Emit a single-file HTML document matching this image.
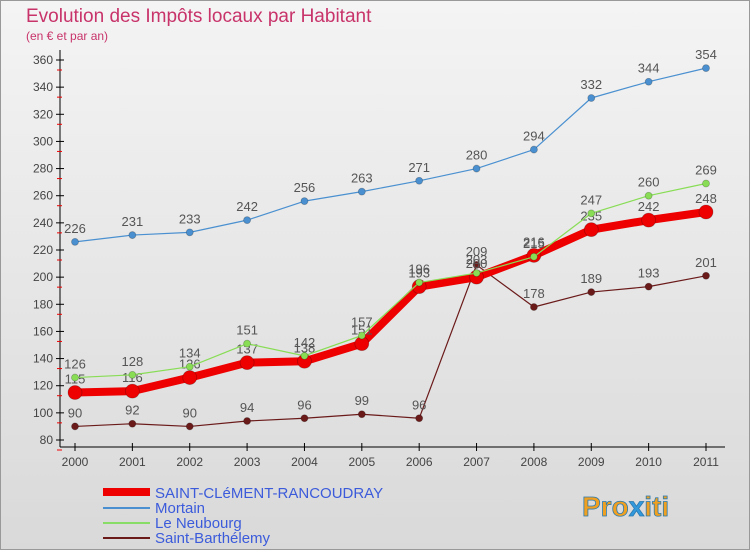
<!DOCTYPE html>
<html><head><meta charset="utf-8"><style>
body{margin:0;width:750px;height:550px;overflow:hidden;font-family:"Liberation Sans",sans-serif;}
svg text{font-family:"Liberation Sans",sans-serif;}
</style></head><body>
<svg width="750" height="550" viewBox="0 0 750 550">
<defs><linearGradient id="bg" x1="0" y1="0" x2="0" y2="1"><stop offset="0" stop-color="#f4f4f4"/><stop offset="1" stop-color="#d9d9d9"/></linearGradient></defs>
<rect x="0.5" y="0.5" width="749" height="549" fill="url(#bg)" stroke="#999"/>
<text x="26" y="22" font-size="19" fill="#c8336a">Evolution des Impôts locaux par Habitant</text>
<text x="26" y="40" font-size="12" fill="#c8336a">(en € et par an)</text>
<g id="axes"></g>
<g id="series"></g>
<g>
<line x1="103" y1="492" x2="150" y2="492" stroke="#e00" stroke-width="8"/>
<text x="155" y="498" font-size="15" fill="#3b5bdb">SAINT-CLéMENT-RANCOUDRAY</text>
<line x1="103" y1="508" x2="150" y2="508" stroke="#4a90d0" stroke-width="2"/>
<text x="155" y="513" font-size="15" fill="#3b5bdb">Mortain</text>
<line x1="103" y1="523" x2="150" y2="523" stroke="#88dd66" stroke-width="2"/>
<text x="155" y="528" font-size="15" fill="#3b5bdb">Le Neubourg</text>
<line x1="103" y1="538" x2="150" y2="538" stroke="#6b1a1a" stroke-width="2"/>
<text x="155" y="543" font-size="15" fill="#3b5bdb">Saint-Barthélemy</text>
</g>
<text x="582" y="516" font-size="28" font-weight="bold" fill="#f0a020" stroke="#2a7ab0" stroke-width="0.8">Pro<tspan fill="#3399dd">x</tspan>iti</text>
</svg>
<script>
const years=["2000","2001","2002","2003","2004","2005","2006","2007","2008","2009","2010","2011"];
const yTicks=[80,100,120,140,160,180,200,220,240,260,280,300,320,340,360];
const saintClement=[115,116,126,137,138,151,193,200,216,235,242,248];
const mortain=[226,231,233,242,256,263,271,280,294,332,344,354];
const neubourg=[126,128,134,151,142,157,196,203,215,247,260,269];
const barthelemy=[90,92,90,94,96,99,96,209,178,189,193,201];
const NS="http://www.w3.org/2000/svg";
function X(i){return 75+i*(706-75)/11;}
function Y(v){return 440-(v-80)*(380/280);}
function mk(t,a,p){const e=document.createElementNS(NS,t);for(const k in a)e.setAttribute(k,a[k]);p.appendChild(e);return e;}
const ax=document.getElementById('axes');
mk('line',{x1:60,y1:50,x2:60,y2:447,stroke:'#000'},ax);
mk('line',{x1:60,y1:447,x2:725,y2:447,stroke:'#000'},ax);
yTicks.forEach(v=>{
 const y=Y(v);
 const l=mk('line',{x1:56,y1:y,x2:64,y2:y,stroke:'#000'},ax);
 
 
 mk('line',{x1:57,y1:y+10,x2:62,y2:y+10,stroke:'#e00'},ax);
 const t=mk('text',{x:53,y:y+4,'font-size':12,'text-anchor':'end',fill:'#444'},ax);
 t.textContent=v;
 
 
});
years.forEach((yr,i)=>{
 const x=X(i);
 mk('line',{x1:x,y1:443,x2:x,y2:451,stroke:'#000'},ax);
 const t=mk('text',{x:x,y:466,'font-size':12,'text-anchor':'middle',fill:'#444'},ax);
 t.textContent=yr;
 
 
});
const sg=document.getElementById('series');
function series(name,vals,color,w,r){
 const g=mk('g',{},sg);
 
 
 mk('polyline',{points:vals.map((v,i)=>X(i)+','+Y(v)).join(' '),fill:'none',stroke:color,'stroke-width':w,'stroke-linejoin':'round'},g);
 vals.forEach((v,i)=>{
  const c=mk('circle',{cx:X(i),cy:Y(v),r:r,fill:color,stroke:'rgba(0,0,0,0.25)','stroke-width':0.8},g);
  
  
  const t=mk('text',{x:X(i),y:Y(v)-9,'font-size':13,'text-anchor':'middle',fill:'#555'},g);
  t.textContent=v;
  
  
 });
}
series('mortain-series',mortain,'#4a90d0',1.2,3.5);
series('barthelemy-series',barthelemy,'#6b1a1a',1.2,3.5);
series('saint-clement-series',saintClement,'#ee0000',8,7);
series('neubourg-series',neubourg,'#88dd55',1.2,3.5);
</script>
</body></html>
